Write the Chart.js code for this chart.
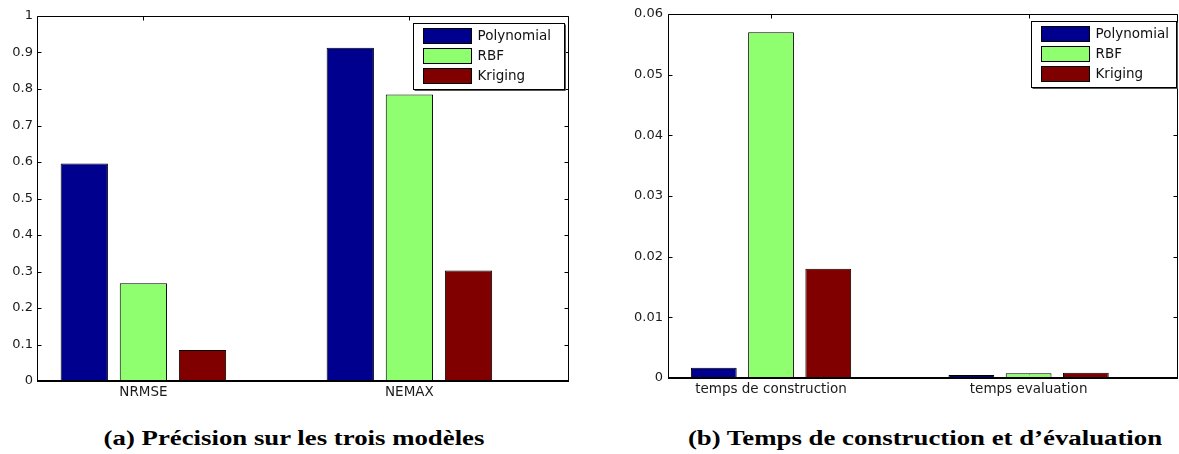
<!DOCTYPE html>
<html><head><meta charset="utf-8">
<script src="https://cdn.jsdelivr.net/npm/chart.js@4.4.1/dist/chart.umd.min.js"></script>
<style>
html,body{margin:0;padding:0;background:#fff;}
body{width:1179px;height:454px;position:relative;overflow:hidden;}
.box{position:absolute;top:0;height:410px;}
#wa{left:0;width:600px;}
#wb{left:600px;width:579px;}
.cap{position:absolute;top:428px;font-family:'Liberation Serif',serif;font-weight:bold;font-size:20px;line-height:1;white-space:nowrap;color:#000;transform:translateX(-50%) scaleX(1.34);}
</style></head><body>
<div class="box" id="wa"><canvas id="ca"></canvas></div>
<div class="box" id="wb"><canvas id="cb"></canvas></div>
<div class="cap" id="capA" style="left:294px">(a) Précision sur les trois modèles</div>
<div class="cap" id="capB" style="left:925px">(b) Temps de construction et d’évaluation</div>
<script>
const seriesNames = ['Polynomial', 'RBF', 'Kriging'];
const seriesColors = ['#00008f', '#8fff6f', '#800000'];

const categoriesA = ['NRMSE', 'NEMAX'];
const polynomialA = [0.596, 0.913];
const rbfA = [0.268, 0.785];
const krigingA = [0.085, 0.303];
const yTicksA = [0, 0.1, 0.2, 0.3, 0.4, 0.5, 0.6, 0.7, 0.8, 0.9, 1];

const categoriesB = ['temps de construction', 'temps evaluation'];
const polynomialB = [0.0017, 0.0005];
const rbfB = [0.057, 0.0008];
const krigingB = [0.018, 0.00085];
const yTicksB = [0, 0.01, 0.02, 0.03, 0.04, 0.05, 0.06];

const framePlugin = {
  id: 'frameBox',
  beforeDatasetsDraw(chart) {
    const {ctx, chartArea: a, scales: {x}} = chart;
    ctx.save();
    ctx.strokeStyle = '#000'; ctx.lineWidth = 1;
    x.ticks.forEach((t, i) => {
      const px = Math.round(x.getPixelForTick(i)) + 0.5;
      ctx.beginPath(); ctx.moveTo(px, a.bottom); ctx.lineTo(px, a.bottom - 4); ctx.stroke();
    });
    ctx.restore();
  },
  afterDatasetsDraw(chart) {
    const {ctx, chartArea: a, scales: {x, y}} = chart;
    const L = Math.round(a.left) + 0.5, R = Math.round(a.right) - 0.5;
    const T = Math.round(a.top) + 0.5, B = Math.round(a.bottom);
    ctx.save();
    ctx.strokeStyle = '#000'; ctx.lineWidth = 1;
    ctx.beginPath();
    ctx.moveTo(L, B); ctx.lineTo(L, T); ctx.lineTo(R, T); ctx.lineTo(R, B);
    ctx.stroke();
    ctx.lineWidth = 2;
    ctx.beginPath(); ctx.moveTo(L - 0.5, B); ctx.lineTo(R + 0.5, B); ctx.stroke();
    ctx.lineWidth = 1;
    y.ticks.forEach((t, i) => {
      const py = Math.round(y.getPixelForTick(i)) + 0.5;
      ctx.beginPath();
      ctx.moveTo(L, py); ctx.lineTo(L + 4, py);
      ctx.moveTo(R, py); ctx.lineTo(R - 4, py);
      ctx.stroke();
    });
    x.ticks.forEach((t, i) => {
      const px = Math.round(x.getPixelForTick(i)) + 0.5;
      ctx.beginPath(); ctx.moveTo(px, T); ctx.lineTo(px, T + 4); ctx.stroke();
    });
    ctx.restore();
  },
  afterDraw(chart, args, opts) {
    const {ctx, chartArea: a} = chart;
    const w = opts.legendW, h = 66;
    const left = Math.round(a.right - opts.legendGap - w) + 0.5;
    const top = Math.round(a.top + 7) + 0.5;
    ctx.save();
    ctx.fillStyle = '#fff'; ctx.fillRect(left, top, w, h);
    ctx.strokeStyle = '#000'; ctx.lineWidth = 1; ctx.strokeRect(left, top, w, h);
    ctx.strokeStyle = '#555';
    ctx.beginPath(); ctx.moveTo(left + w + 1, top + 1); ctx.lineTo(left + w + 1, top + h + 1); ctx.lineTo(left + 1, top + h + 1); ctx.stroke();
    ctx.strokeStyle = '#000';
    chart.data.datasets.forEach((ds, i) => {
      const py = top + 5 + i * 20;
      ctx.fillStyle = ds.backgroundColor; ctx.fillRect(left + 10, py, 48, 15);
      ctx.strokeRect(left + 10, py, 48, 15);
      ctx.fillStyle = '#111'; ctx.font = '13.5px "DejaVu Sans"';
      ctx.textBaseline = 'middle'; ctx.textAlign = 'left';
      ctx.fillText(ds.label, left + 64, py + 8);
    });
    ctx.restore();
  }
};

function makeChart(id, cats, series, yTicks, L) {
  const datasets = series.map((vals, s) => ({
    label: seriesNames[s],
    data: vals.map((v, i) => ({x: i + 1, y: v})),
    backgroundColor: seriesColors[s],
    borderColor: '#000', borderWidth: 1, borderSkipped: false,
    categoryPercentage: 2 / 3, barPercentage: 0.8
  }));
  return new Chart(document.getElementById(id), {
    type: 'bar',
    data: {datasets},
    options: {
      animation: false, responsive: true, maintainAspectRatio: false, devicePixelRatio: 1,
      layout: {padding: {left: 0, top: L.top, right: L.right, bottom: 0}},
      plugins: {legend: {display: false}, tooltip: {enabled: false},
        frameBox: {legendW: L.legendW, legendGap: L.legendGap}},
      scales: {
        x: {type: 'linear', min: L.xMin, max: L.xMax, offset: false,
          grid: {display: false, drawTicks: false}, border: {display: false},
          afterBuildTicks: ax => { ax.ticks = cats.map((c, i) => ({value: i + 1})); },
          afterFit: ax => { ax.height = L.xH; },
          ticks: {padding: 3, maxRotation: 0, autoSkip: false, color: '#1a1a1a',
            font: {family: 'DejaVu Sans', size: 13.5},
            callback: v => cats[Math.round(v) - 1]}},
        y: {min: 0, max: yTicks[yTicks.length - 1],
          grid: {display: false, drawTicks: false}, border: {display: false},
          afterBuildTicks: ax => { ax.ticks = yTicks.map(v => ({value: v})); },
          afterFit: ax => { ax.width = L.yW; },
          ticks: {padding: L.tickPad, color: '#1a1a1a', font: {family: 'DejaVu Sans', size: 13},
            callback: v => String(+Number(v).toFixed(4))}}
      }
    },
    plugins: [framePlugin]
  });
}

makeChart('ca', categoriesA, [polynomialA, rbfA, krigingA], yTicksA,
  {top: 16, right: 31, xMin: 0.6, xMax: 2.6, xH: 29, yW: 37, tickPad: 4, legendW: 151, legendGap: 5});
makeChart('cb', categoriesB, [polynomialB, rbfB, krigingB], yTicksB,
  {top: 14, right: 1, xMin: 0.6, xMax: 2.58, xH: 32, yW: 68, tickPad: 5, legendW: 145, legendGap: 2});
</script>
</body></html>
